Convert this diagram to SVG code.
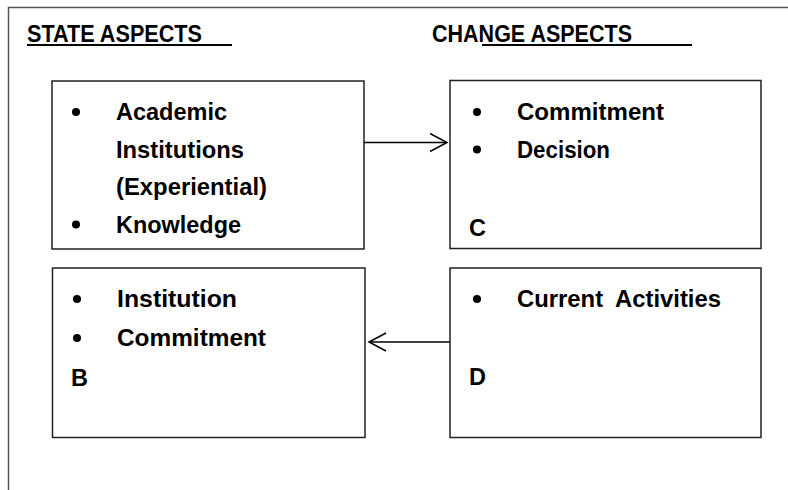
<svg xmlns="http://www.w3.org/2000/svg" width="788" height="490" viewBox="0 0 788 490">
<defs>
<style>
.t{font-family:"Liberation Sans",Arial,sans-serif;font-weight:bold;font-size:23.5px;fill:#000}
.box{fill:#fff;stroke:#222;stroke-width:1.5}
.frame{fill:none;stroke:#555;stroke-width:1.5}
.ul{stroke:#000;stroke-width:2}
.conn{fill:none;stroke:#000;stroke-width:1.5}
.dot{fill:#000}
</style>
<marker id="arr" markerUnits="userSpaceOnUse" viewBox="-19 -11 21 22" markerWidth="21" markerHeight="22" refX="0" refY="0" orient="auto">
<path d="M-17,-9 L0,0 L-17,9" fill="none" stroke="#000" stroke-width="1.5"/>
</marker>
</defs>
<rect width="788" height="490" fill="#fff"/>
<g id="frame">
<path class="frame" d="M8.5,490 L8.5,7.5 L788,7.5"/>
</g>
<g id="headers">
<text class="t" x="27" y="42" textLength="175" lengthAdjust="spacingAndGlyphs">STATE ASPECTS</text>
<line class="ul" x1="27" y1="45" x2="232" y2="45"/>
<text class="t" x="432" y="42" textLength="200" lengthAdjust="spacingAndGlyphs">CHANGE ASPECTS</text>
<line class="ul" x1="482" y1="45" x2="692" y2="45"/>
</g>
<g id="nodeA">
<rect class="box" x="52" y="81" width="312" height="168"/>
<circle class="dot" cx="76" cy="112" r="4"/>
<text class="t" x="116" y="120" textLength="111" lengthAdjust="spacingAndGlyphs">Academic</text>
<text class="t" x="116" y="157.5" textLength="128" lengthAdjust="spacingAndGlyphs">Institutions</text>
<text class="t" x="116" y="195" textLength="151" lengthAdjust="spacingAndGlyphs">(Experiential)</text>
<circle class="dot" cx="76" cy="224.5" r="4"/>
<text class="t" x="116" y="232.5" textLength="125" lengthAdjust="spacingAndGlyphs">Knowledge</text>
</g>
<g id="nodeC">
<rect class="box" x="450" y="80.5" width="311" height="168"/>
<circle class="dot" cx="477" cy="112" r="4"/>
<text class="t" x="517" y="120" textLength="147" lengthAdjust="spacingAndGlyphs">Commitment</text>
<circle class="dot" cx="477" cy="149.5" r="4"/>
<text class="t" x="517" y="157.5" textLength="93" lengthAdjust="spacingAndGlyphs">Decision</text>
<text class="t" x="469" y="236">C</text>
</g>
<g id="nodeB">
<rect class="box" x="52.5" y="268" width="312.5" height="169.5"/>
<circle class="dot" cx="77" cy="299" r="4"/>
<text class="t" x="117" y="307" textLength="120" lengthAdjust="spacingAndGlyphs">Institution</text>
<circle class="dot" cx="77" cy="338" r="4"/>
<text class="t" x="117" y="346" textLength="149" lengthAdjust="spacingAndGlyphs">Commitment</text>
<text class="t" x="71" y="386">B</text>
</g>
<g id="nodeD">
<rect class="box" x="450" y="268" width="311" height="169.5"/>
<circle class="dot" cx="477" cy="299" r="4"/>
<text class="t" x="517" y="307" word-spacing="6" textLength="204" lengthAdjust="spacingAndGlyphs">Current Activities</text>
<text class="t" x="469" y="385">D</text>
</g>
<g id="connectors">
<line class="conn" x1="364" y1="142.5" x2="447" y2="142.5" marker-end="url(#arr)"/>
<line class="conn" x1="450" y1="342" x2="369" y2="342" marker-end="url(#arr)"/>
</g>
</svg>
